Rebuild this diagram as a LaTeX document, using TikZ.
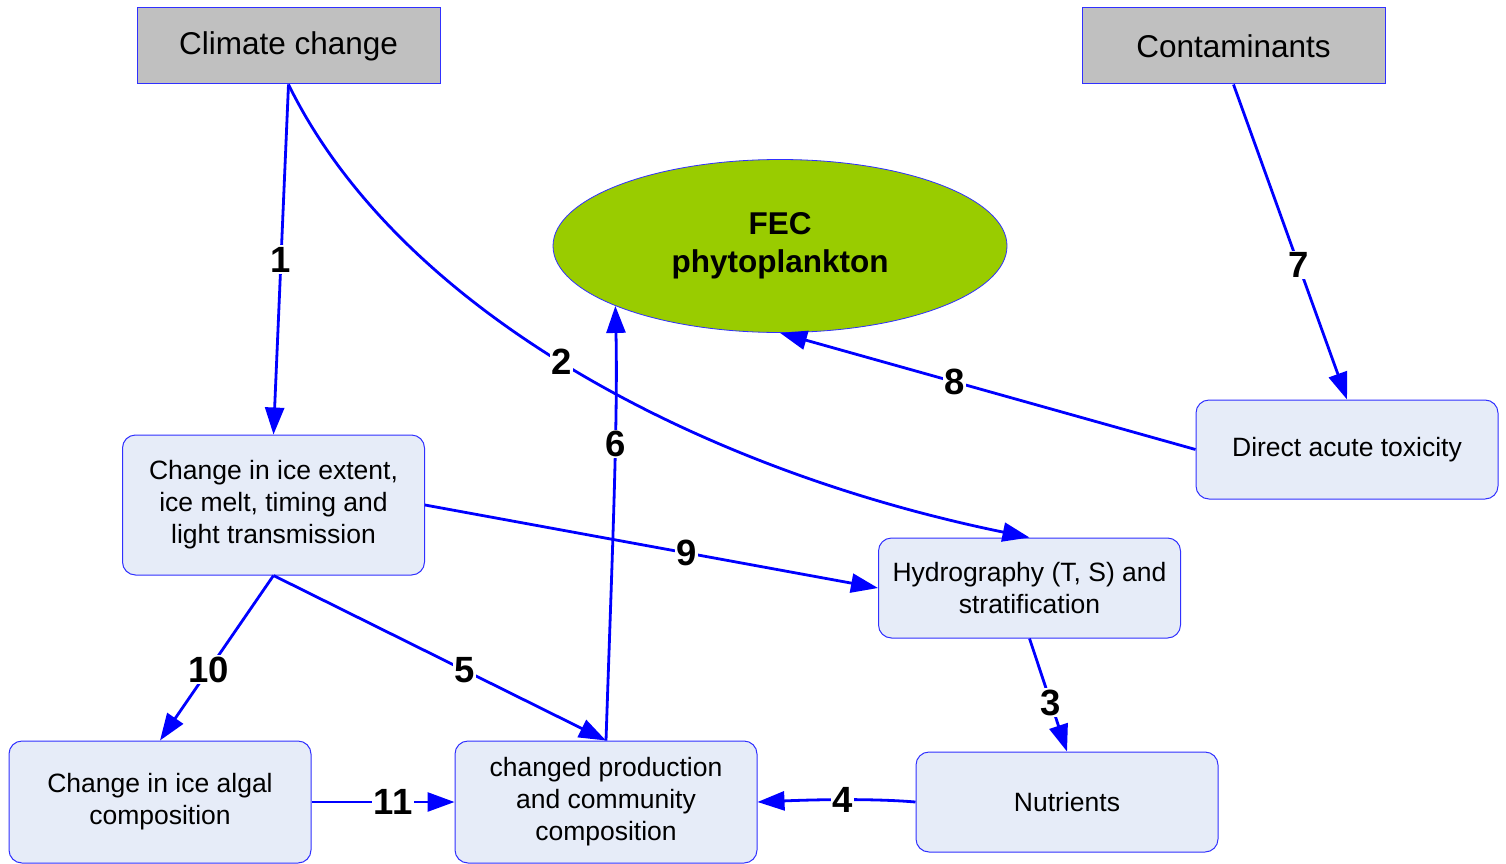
\documentclass[tikz,border=0pt]{standalone}
\usepackage{fontspec}
\setmainfont{Liberation Sans}
\usetikzlibrary{arrows.meta,shapes.geometric}
\definecolor{boxfill}{HTML}{E6ECF8}
\definecolor{boxline}{HTML}{3030FF}
\definecolor{greyfill}{HTML}{C0C0C0}
\definecolor{greenfill}{HTML}{99CC00}
\tikzset{
  driver/.style={draw=boxline, line width=1pt, fill=greyfill, inner sep=0pt,
    minimum width=303pt, minimum height=76pt,
    font=\fontsize{31.5}{38}\selectfont},
  effect/.style={draw=boxline, line width=1pt, fill=boxfill, rounded corners=13pt,
    inner sep=0pt, align=center, minimum width=302pt,
    font=\fontsize{26.5}{32}\selectfont},
  target/.style={ellipse, draw=boxline, line width=0.8pt, fill=greenfill, inner sep=0pt,
    minimum width=454pt, minimum height=173pt, align=center,
    font=\bfseries\fontsize{31.5}{38}\selectfont},
  link/.style={draw=blue, line width=2.8pt, -{Triangle[length=27pt,width=19pt]}},
  num/.style={fill=white, inner sep=1.5pt, font=\bfseries\fontsize{36.5}{36.5}\selectfont}
}
\begin{document}
\begin{tikzpicture}[x=1pt, y=-1pt]
  \useasboundingbox (0,0) rectangle (1506,864);

  % drivers
  \node[driver] (cc)  at (288.5,46) {Climate change};
  \node[driver] (con) at (1233.5,46) {Contaminants};

  % ecosystem component
  \node[target] (fec) at (780,246) {FEC\\phytoplankton};

  % intermediate effects
  \node[effect, minimum height=140pt] (ice) at (273.5,505) {Change in ice extent,\\ice melt, timing and\\light transmission};
  \node[effect, minimum height=100pt] (hyd) at (1029.5,588) {Hydrography (T, S) and\\stratification};
  \node[effect, minimum height=99pt]  (dat) at (1347,449.5) {Direct acute toxicity};
  \node[effect, minimum height=122pt] (alg) at (160,802) {Change in ice algal\\composition};
  \node[effect, minimum height=122pt] (cp)  at (606,802) {changed production\\and community\\composition};
  \node[effect, minimum height=100pt] (nut) at (1067,802) {Nutrients};

  % pathways
  \draw[link] (cc.south) -- node[num, pos=0.5] {1} (ice.north);
  \draw[link] (cc.south) .. controls (400,312) and (700,470) .. node[num, pos=0.48] {2} (hyd.north);
  \draw[link] (hyd.south) -- node[num, pos=0.57] {3} (nut.north);
  \draw[link] (nut.west) .. controls (880,799) and (830,799) .. node[num, pos=0.55] {4} (cp.east);
  \draw[link] (ice.south) -- node[num, pos=0.575] {5} (cp.north);
  \draw[link] (cp.north) .. controls (612,560) and (618,420) .. node[num, pos=0.63] {6} (fec.200.6);
  \draw[link] (con.south) -- node[num, pos=0.573] {7} (dat.north);
  \draw[link] (dat.west) -- node[num, pos=0.58] {8} (fec.south);
  \draw[link] (ice.east) -- node[num, pos=0.578] {9} (hyd.west);
  \draw[link] (ice.south) -- node[num, pos=0.572] {10} (alg.north);
  \draw[link] (alg.east) -- node[num, pos=0.57] {11} (cp.west);
\end{tikzpicture}
\end{document}
